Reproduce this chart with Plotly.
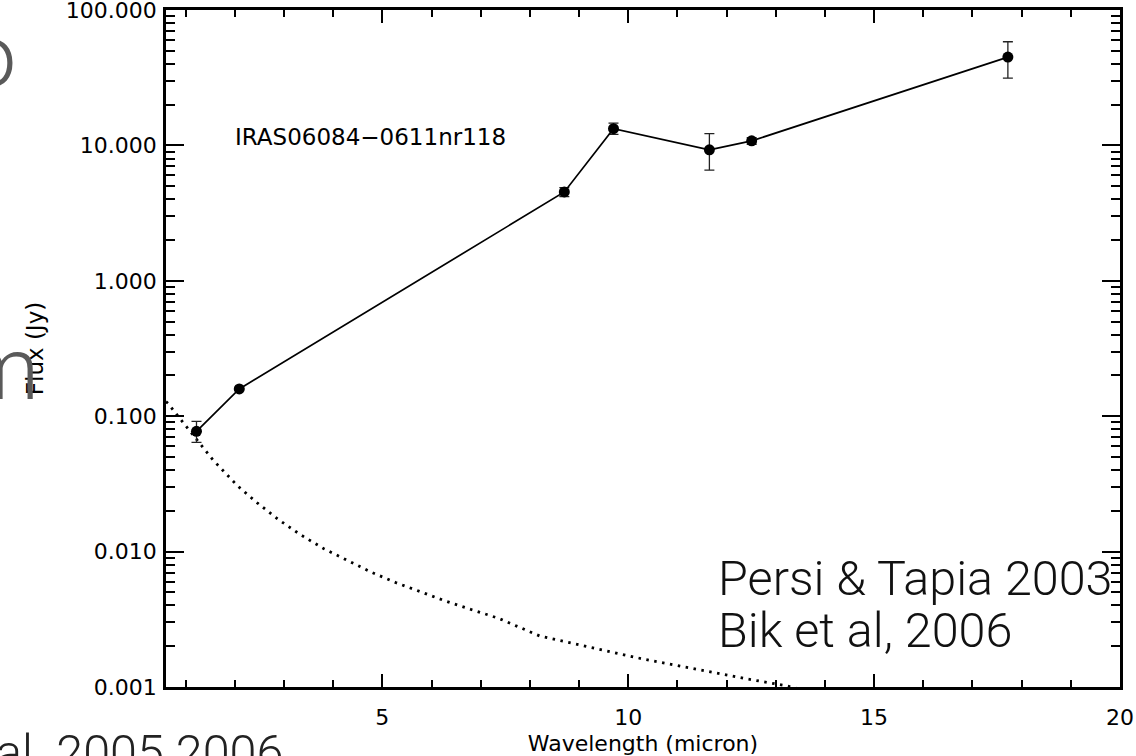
import plotly.graph_objects as go

# ---- data ----
wavelength = [1.22, 2.09, 8.70, 9.70, 11.65, 12.51, 17.72]
flux = [0.0773, 0.159, 4.53, 13.3, 9.27, 10.8, 44.9]
flux_err_plus = [0.0144, 0.0, 0.35, 1.3, 2.93, 0.6, 13.4]
flux_err_minus = [0.0132, 0.0, 0.35, 1.24, 2.71, 0.6, 13.5]

photo_wl = [0.60, 0.647, 0.763, 0.972, 1.306, 1.55, 2.05, 2.456, 2.89, 3.339, 3.81,
            4.29, 4.79, 5.29, 5.79, 6.31, 6.82, 7.36, 8.20, 9.29, 10.30, 11.32,
            12.34, 13.22, 13.5]
photo_flux = [0.128, 0.124, 0.109, 0.0877, 0.0607, 0.0478, 0.0307, 0.0229, 0.0172,
              0.0133, 0.0105, 0.00855, 0.0070, 0.00587, 0.00501, 0.00428, 0.00372,
              0.00322, 0.00238, 0.00193, 0.00161, 0.00137, 0.00116, 0.00102, 0.00096]

y_tickvals = [0.001, 0.01, 0.1, 1, 10, 100]
y_ticktext = ["0.001", "0.010", "0.100", "1.000", "10.000", "100.000"]
y_minor = [m * 10 ** e for e in range(-3, 2) for m in range(2, 10)]
x_tickvals = [5, 10, 15, 20]
x_ticktext = ["5", "10", "15", "20"]

W, H = 1136, 756
L, R, T, B = 166, 1120, 10, 687


def px(x):
    return (x - L) / (R - L)


def py(y):
    return (B - y) / (B - T)


fig = go.Figure()
fig.add_trace(go.Scatter(
    x=photo_wl, y=photo_flux, mode="lines",
    line=dict(color="black", width=2.8, dash="2.5px,5.5px"),
    showlegend=False, hoverinfo="skip"))
fig.add_trace(go.Scatter(
    x=wavelength, y=flux, mode="lines+markers",
    line=dict(color="black", width=1.7),
    marker=dict(color="black", size=11),
    error_y=dict(type="data", symmetric=False, array=flux_err_plus,
                 arrayminus=flux_err_minus, color="#222", thickness=1.3, width=5),
    showlegend=False))

base_font = "DejaVu Sans"
axis_common = dict(showline=True, linecolor="black", linewidth=2.5, mirror="allticks",
                   ticks="inside", tickcolor="black", showgrid=False, zeroline=False,
                   automargin=False, ticklabeloverflow="allow")

fig.update_xaxes(range=[0.6, 20], tickmode="array", tickvals=x_tickvals, ticktext=x_ticktext,
                 ticklen=13, tickwidth=2,
                 minor=dict(ticks="inside", ticklen=7, tickwidth=2, tickcolor="black",
                            tick0=0, dtick=1),
                 tickfont=dict(family=base_font, size=22, color="black"),
                 ticklabelstandoff=9,
                 title=dict(text="Wavelength (micron)", standoff=7,
                            font=dict(family=base_font, size=22, color="black")),
                 **axis_common)
fig.update_yaxes(type="log", range=[-3, 2], tickmode="array", tickvals=y_tickvals,
                 ticktext=y_ticktext, ticklen=18, tickwidth=2,
                 minor=dict(ticks="inside", ticklen=9, tickwidth=2, tickcolor="black",
                            tickvals=y_minor),
                 tickfont=dict(family=base_font, size=22, color="black"),
                 ticklabelstandoff=2,
                 title=dict(text="Flux (Jy)", standoff=16,
                            font=dict(family=base_font, size=23, color="black")),
                 **axis_common)

annotations = [
    dict(text="IRAS06084−0611nr118", x=px(233), y=py(137), xanchor="left", yanchor="middle",
         font=dict(family=base_font, size=23, color="black")),
    dict(text="Persi & Tapia 2003", x=px(716), y=py(578), xanchor="left", yanchor="middle",
         font=dict(family="Roboto", size=48.5, color="#111", weight=300)),
    dict(text="Bik et al, 2006", x=px(716), y=py(630), xanchor="left", yanchor="middle",
         font=dict(family="Roboto", size=48.5, color="#111", weight=300)),
    dict(text="o", x=px(18), y=py(56), xanchor="right", yanchor="middle",
         font=dict(family="Roboto", size=88, color="#5a5a5a", weight=300)),
    dict(text="m", x=px(41), y=py(368), xanchor="right", yanchor="middle",
         font=dict(family="Roboto", size=88, color="#5a5a5a", weight=300)),
    dict(text="al. 2005 2006", x=px(-6), y=py(752), xanchor="left", yanchor="middle",
         font=dict(family="Roboto", size=48.5, color="#222", weight=300)),
]
for a in annotations:
    a.update(xref="paper", yref="paper", showarrow=False)

fig.update_layout(width=W, height=H, margin=dict(l=L, r=W - R, t=T, b=H - B),
                  paper_bgcolor="white", plot_bgcolor="white",
                  annotations=annotations)

fig.write_html("out.html")
